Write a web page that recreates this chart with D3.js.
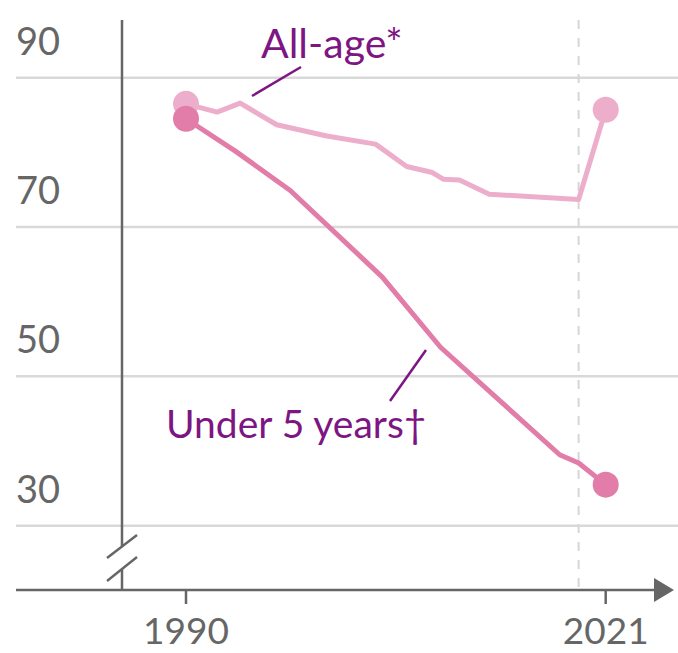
<!DOCTYPE html>
<html>
<head>
<meta charset="utf-8">
<script src="https://cdn.jsdelivr.net/npm/d3@7"></script>
<style>
  body { margin: 0; background: #fff; }
  svg { display: block; font-family: Lato, "Open Sans", sans-serif; }
</style>
</head>
<body>
<svg width="678" height="653"></svg>
<script>
var svg = d3.select("svg"),
    width = +svg.attr("width"),
    height = +svg.attr("height");

// values (percent)
var allAgeYears   = [1990, 1992.3, 1994, 1996.7, 2000.4, 2004, 2006.3, 2008.2, 2009, 2010.2, 2012.4, 2019, 2021];
var allAgeValues  = [86.5, 85.4, 86.6, 83.7, 82.2, 81.1, 78.1, 77.3, 76.4, 76.3, 74.4, 73.7, 85.7];
var under5Years   = [1990, 1993.7, 1997.7, 2004.5, 2008.8, 2017.6, 2019, 2021];
var under5Values  = [84.5, 80.1, 74.9, 63.3, 53.9, 39.5, 38.4, 35.5];
var yTicks = [90, 70, 50, 30];
var xTicks = [1990, 2021];
var markerYear = 2019;

var x = d3.scaleLinear().domain([1990, 2021]).range([186, 605.7]);
var y = d3.scaleLinear().domain([30, 90]).range([525.7, 77.7]);

var axisX = 122, axisY = 590;
var grey = "#666", grid = "#d9d9d9", purple = "#7d1583";
var lightPink = "#edaecb", pink = "#e27da9";

// grid lines + tick labels
svg.append("g").attr("class", "grid")
  .selectAll("line").data(yTicks).enter().append("line")
    .attr("x1", 16).attr("x2", width)
    .attr("y1", function(d) { return y(d); })
    .attr("y2", function(d) { return y(d); })
    .attr("stroke", grid).attr("stroke-width", 2.5);

svg.append("g").attr("class", "ylabels")
  .selectAll("text").data(yTicks).enter().append("text")
    .attr("x", 16)
    .attr("y", function(d) { return y(d) - 23; })
    .attr("fill", grey)
    .attr("font-size", 38)
    .text(function(d) { return d; });

// dashed 2019 line
svg.append("line")
  .attr("x1", x(markerYear)).attr("x2", x(markerYear))
  .attr("y1", 20).attr("y2", axisY)
  .attr("stroke", "#d6d6d6").attr("stroke-width", 2)
  .attr("stroke-dasharray", "9,9");

// y axis with break
var ax = svg.append("g").attr("stroke", grey).attr("stroke-width", 2.5);
ax.append("line").attr("x1", axisX).attr("x2", axisX).attr("y1", 20).attr("y2", 546);
ax.append("line").attr("x1", axisX).attr("x2", axisX).attr("y1", 569).attr("y2", axisY);
ax.append("line").attr("x1", 107).attr("y1", 558).attr("x2", 137).attr("y2", 535);
ax.append("line").attr("x1", 107).attr("y1", 581).attr("x2", 137).attr("y2", 557);

// x axis
ax.append("line").attr("x1", 16).attr("x2", 656).attr("y1", axisY).attr("y2", axisY);
svg.append("path")
  .attr("d", "M654,578L674,590L654,602Z")
  .attr("fill", grey);
ax.selectAll(".tick").data(xTicks).enter().append("line")
  .attr("x1", function(d) { return x(d); })
  .attr("x2", function(d) { return x(d); })
  .attr("y1", axisY).attr("y2", axisY + 14);

svg.append("g").attr("class", "xlabels")
  .selectAll("text").data(xTicks).enter().append("text")
    .attr("x", function(d) { return x(d); })
    .attr("y", 644)
    .attr("text-anchor", "middle")
    .attr("fill", grey)
    .attr("font-size", 37)
    .text(function(d) { return d; });

// lines
var line = d3.line()
  .x(function(d) { return x(d[0]); })
  .y(function(d) { return y(d[1]); });

var allAge = d3.zip(allAgeYears, allAgeValues);
var under5 = d3.zip(under5Years, under5Values);

svg.append("path").datum(allAge)
  .attr("d", line).attr("fill", "none")
  .attr("stroke", lightPink).attr("stroke-width", 5)
  .attr("stroke-linejoin", "round");
svg.append("path").datum(under5)
  .attr("d", line).attr("fill", "none")
  .attr("stroke", pink).attr("stroke-width", 5)
  .attr("stroke-linejoin", "round");

// end points
svg.selectAll(".dotA").data([allAge[0], allAge[allAge.length - 1]]).enter().append("circle")
  .attr("cx", function(d) { return x(d[0]); })
  .attr("cy", function(d) { return y(d[1]); })
  .attr("r", 13).attr("fill", lightPink);
svg.selectAll(".dotU").data([under5[0], under5[under5.length - 1]]).enter().append("circle")
  .attr("cx", function(d) { return x(d[0]); })
  .attr("cy", function(d) { return y(d[1]); })
  .attr("r", 13).attr("fill", pink);

// labels
svg.append("line").attr("x1", 252).attr("y1", 96).attr("x2", 301).attr("y2", 67)
  .attr("stroke", purple).attr("stroke-width", 2.5);
svg.append("text").attr("x", 261).attr("y", 58)
  .attr("fill", purple).attr("font-size", 41).text("All-age*");

svg.append("line").attr("x1", 390).attr("y1", 401).attr("x2", 426).attr("y2", 350)
  .attr("stroke", purple).attr("stroke-width", 2.5);
svg.append("text").attr("x", 166).attr("y", 438)
  .attr("fill", purple).attr("font-size", 39).text("Under 5 years\u2020");
</script>
</body>
</html>
